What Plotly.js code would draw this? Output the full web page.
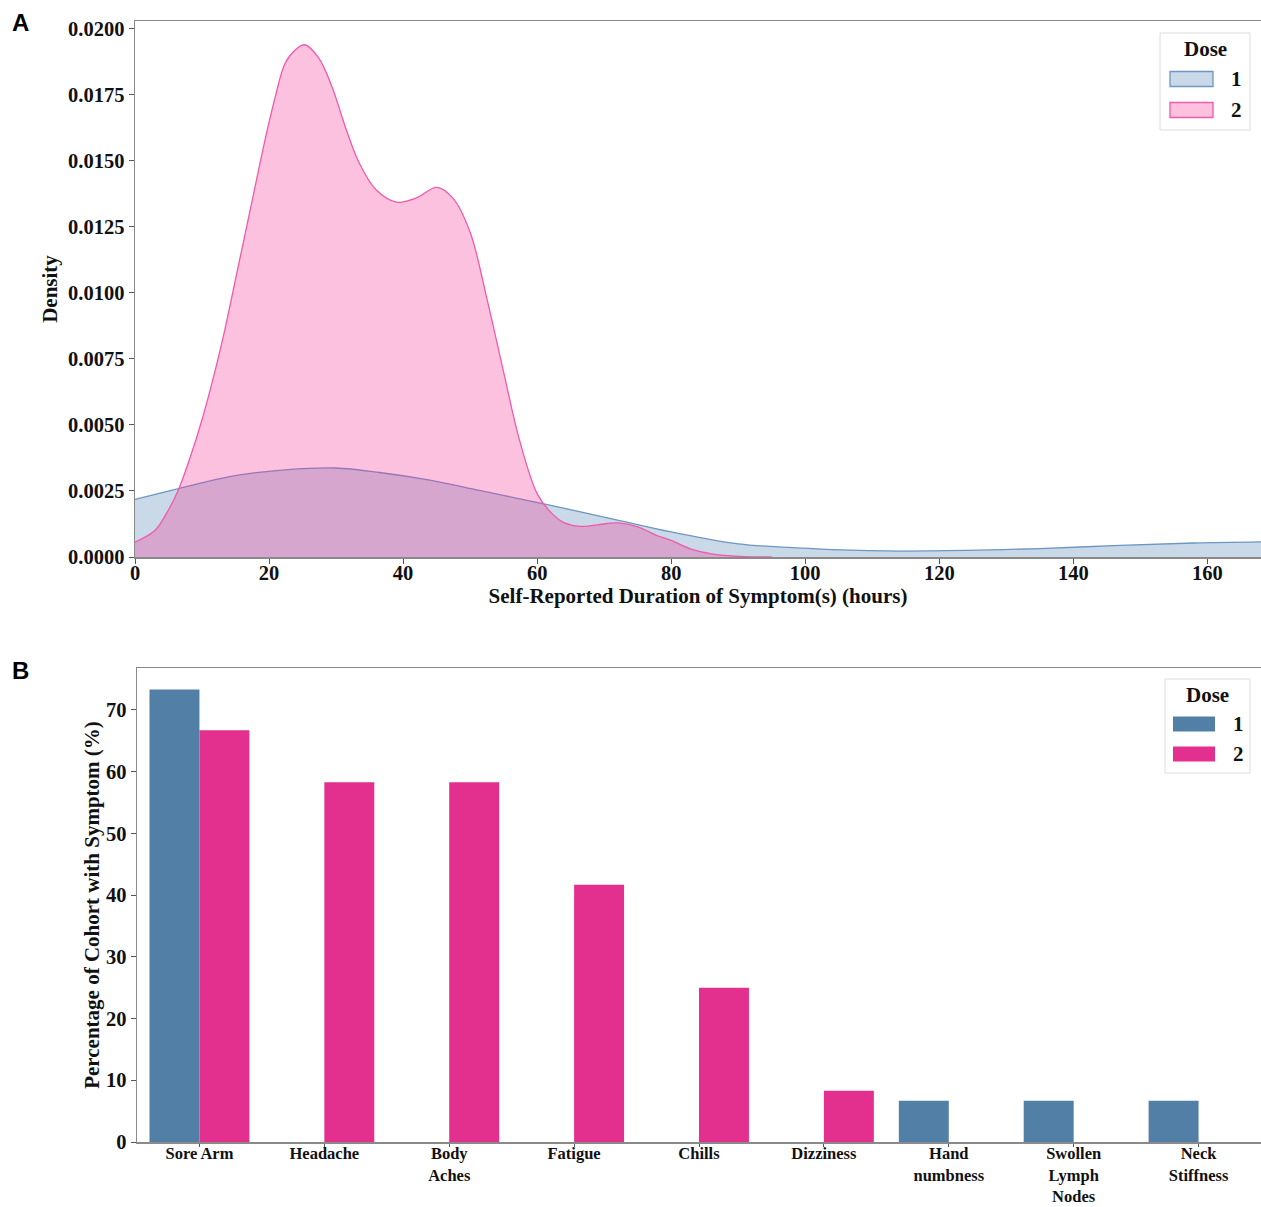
<!DOCTYPE html>
<html>
<head>
<meta charset="utf-8">
<script src="https://cdn.plot.ly/plotly-3.0.1.min.js"></script>
<style>html,body{margin:0;padding:0;background:#fff;}#chart{width:1261px;height:1207px;}</style>
</head>
<body>
<div id="chart"></div>
<script>
// Panel A: KDE curves
const dose1Hours = [0, 6.5, 14.9, 22.4, 29.9, 36.5, 44, 51.4, 59, 66.3, 72, 80, 90, 101, 112, 124, 135, 147, 158, 168];
const dose1Density = [0.00218, 0.00259, 0.00308, 0.0033, 0.00337, 0.0032, 0.00291, 0.00252, 0.00212, 0.00172, 0.0014, 0.00095, 0.0005, 0.00032, 0.00023, 0.00025, 0.00032, 0.00044, 0.00053, 0.00057];
const dose2Hours = [0, 3, 5, 6.5, 8, 10, 11.9, 13.4, 14.9, 16.4, 17.9, 19.4, 20.9, 22.4, 23.9, 25.3, 27.4, 29.4, 31.5, 33.5, 36, 39, 42, 45, 47.4, 50, 52.4, 55, 57.4, 60, 62, 64, 66.5, 69, 72, 75, 78, 80, 83, 86, 88, 91, 95];
const dose2Density = [0.00056, 0.00101, 0.00179, 0.00256, 0.0036, 0.0052, 0.0070, 0.0086, 0.0104, 0.0122, 0.0140, 0.0158, 0.0174, 0.0187, 0.0192, 0.0194, 0.0189, 0.0178, 0.0162, 0.0149, 0.0139, 0.01344, 0.0136, 0.0140, 0.0136, 0.0123, 0.0099, 0.0070, 0.0044, 0.0024, 0.0017, 0.0013, 0.00116, 0.00122, 0.00129, 0.00114, 0.0008, 0.00063, 0.0003, 0.00012, 0.00006, 0.00001, 0];
const densityTicks = [0, 0.0025, 0.005, 0.0075, 0.01, 0.0125, 0.015, 0.0175, 0.02];
const hourTicks = [0, 20, 40, 60, 80, 100, 120, 140, 160];

// Panel B: symptoms
const symptoms = ["Sore Arm", "Headache", "Body<br>Aches", "Fatigue", "Chills", "Dizziness", "Hand<br>numbness", "Swollen<br>Lymph<br>Nodes", "Neck<br>Stiffness"];
const dose1Pct = [73.3, null, null, null, null, null, 6.7, 6.7, 6.7];
const dose2Pct = [66.7, 58.3, 58.3, 41.7, 25.0, 8.3, null, null, null];
const pctTicks = [0, 10, 20, 30, 40, 50, 60, 70];
const doseNames = ["1", "2"];
const legendTitle = "Dose";

const F = 'Liberation Serif, Times New Roman, serif';
const tickFont = {family: F, size: 20.5, color: '#111', weight: 700};
const titleFont = {family: F, size: 21, color: '#111', weight: 700};
const legFont = {family: F, size: 21, color: '#111', weight: 700};
const W = 1261, H = 1207;

const kdeLine = ['rgb(110,150,195)', 'rgb(240,90,170)'];
const kdeFill = ['rgba(75,130,180,0.3)', 'rgba(245,50,150,0.3)'];
const barColor = ['#527fa6', '#e3308f'];

const traces = [
  {x: dose1Hours, y: dose1Density, type: 'scatter', mode: 'lines', name: doseNames[0], showlegend: false,
   line: {color: kdeLine[0], width: 1.3, shape: 'spline', smoothing: 1},
   fill: 'tozeroy', fillcolor: kdeFill[0], xaxis: 'x', yaxis: 'y'},
  {x: dose2Hours, y: dose2Density, type: 'scatter', mode: 'lines', name: doseNames[1], showlegend: false,
   line: {color: kdeLine[1], width: 1.3, shape: 'spline', smoothing: 1},
   fill: 'tozeroy', fillcolor: kdeFill[1], xaxis: 'x', yaxis: 'y'},
  {x: symptoms, y: dose1Pct, type: 'bar', name: doseNames[0], showlegend: false,
   marker: {color: barColor[0], line: {width: 0}}, xaxis: 'x2', yaxis: 'y2'},
  {x: symptoms, y: dose2Pct, type: 'bar', name: doseNames[1], showlegend: false,
   marker: {color: barColor[1], line: {width: 0}}, xaxis: 'x2', yaxis: 'y2'}
];

const axisCommon = {showline: true, linecolor: '#8a8a8a', linewidth: 1.5, ticks: 'outside', ticklen: 5,
  tickcolor: '#555', tickfont: tickFont, showgrid: false, zeroline: false};

// custom legend boxes (pixel positions converted to paper fractions)
const px = v => v / W, py = v => 1 - v / H;
const shapes = [];
const annotations = [];
function addLegend(box, titleY, rows, patchX, labelX, fills, lines) {
  shapes.push({type: 'rect', xref: 'paper', yref: 'paper', x0: px(box[0]), x1: px(box[1]), y0: py(box[2]), y1: py(box[3]),
    line: {color: '#dcdcdc', width: 1}, fillcolor: 'rgba(255,255,255,0.85)', layer: 'above'});
  annotations.push({text: legendTitle, xref: 'paper', yref: 'paper', x: px((box[0] + box[1]) / 2), y: py(titleY),
    xanchor: 'center', yanchor: 'middle', showarrow: false, font: legFont});
  rows.forEach((r, i) => {
    shapes.push({type: 'rect', xref: 'paper', yref: 'paper', x0: px(patchX[0]), x1: px(patchX[1]), y0: py(r - 7.5), y1: py(r + 7.5),
      line: {color: lines[i], width: lines[i] === fills[i] ? 0 : 1.3}, fillcolor: fills[i], layer: 'above'});
    annotations.push({text: doseNames[i], xref: 'paper', yref: 'paper', x: px(labelX), y: py(r),
      xanchor: 'center', yanchor: 'middle', showarrow: false, font: legFont});
  });
}
addLegend([1160, 1250, 33, 130], 49, [79, 110], [1170, 1213], 1236, kdeFill, kdeLine);
addLegend([1165, 1250, 679, 773], 695, [724, 754], [1173, 1215], 1238, barColor, barColor);

annotations.push(
  {text: 'A', x: px(10), y: py(22), xref: 'paper', yref: 'paper', xanchor: 'left', yanchor: 'middle',
   showarrow: false, font: {family: 'Liberation Sans, Arial, sans-serif', size: 24, color: '#000', weight: 700}},
  {text: 'B', x: px(10), y: py(670), xref: 'paper', yref: 'paper', xanchor: 'left', yanchor: 'middle',
   showarrow: false, font: {family: 'Liberation Sans, Arial, sans-serif', size: 24, color: '#000', weight: 700}}
);

const layout = {
  width: W, height: H,
  margin: {l: 0, r: 0, t: 0, b: 0},
  paper_bgcolor: '#fff', plot_bgcolor: '#fff',
  showlegend: false,
  barmode: 'group', bargap: 0.2, bargroupgap: 0,
  xaxis: Object.assign({}, axisCommon, {domain: [135 / W, 1], range: [0, 168], tickvals: hourTicks,
    anchor: 'y', mirror: true, ticklabelstandoff: -8,
    title: {text: 'Self-Reported Duration of Symptom(s) (hours)', font: titleFont, standoff: 0}}),
  yaxis: Object.assign({}, axisCommon, {domain: [(H - 557) / H, (H - 21) / H], range: [0, 0.0203],
    tickvals: densityTicks, tickformat: '.4f', anchor: 'x',
    title: {text: 'Density', font: titleFont, standoff: 4}}),
  xaxis2: Object.assign({}, axisCommon, {domain: [137 / W, 1], range: [-0.5, 8.5], anchor: 'y2',
    mirror: true, tickangle: 0, type: 'category', ticklen: 3, ticklabelstandoff: -7,
    tickfont: {family: F, size: 16.5, color: '#111', weight: 700}}),
  yaxis2: Object.assign({}, axisCommon, {domain: [(H - 1142) / H, (H - 668) / H], range: [0, 76.8],
    tickvals: pctTicks, anchor: 'x2',
    title: {text: 'Percentage of Cohort with Symptom (%)', font: titleFont, standoff: 0}}),
  shapes: shapes,
  annotations: annotations
};

Plotly.newPlot('chart', traces, layout, {displayModeBar: false, staticPlot: true});
</script>
</body>
</html>
